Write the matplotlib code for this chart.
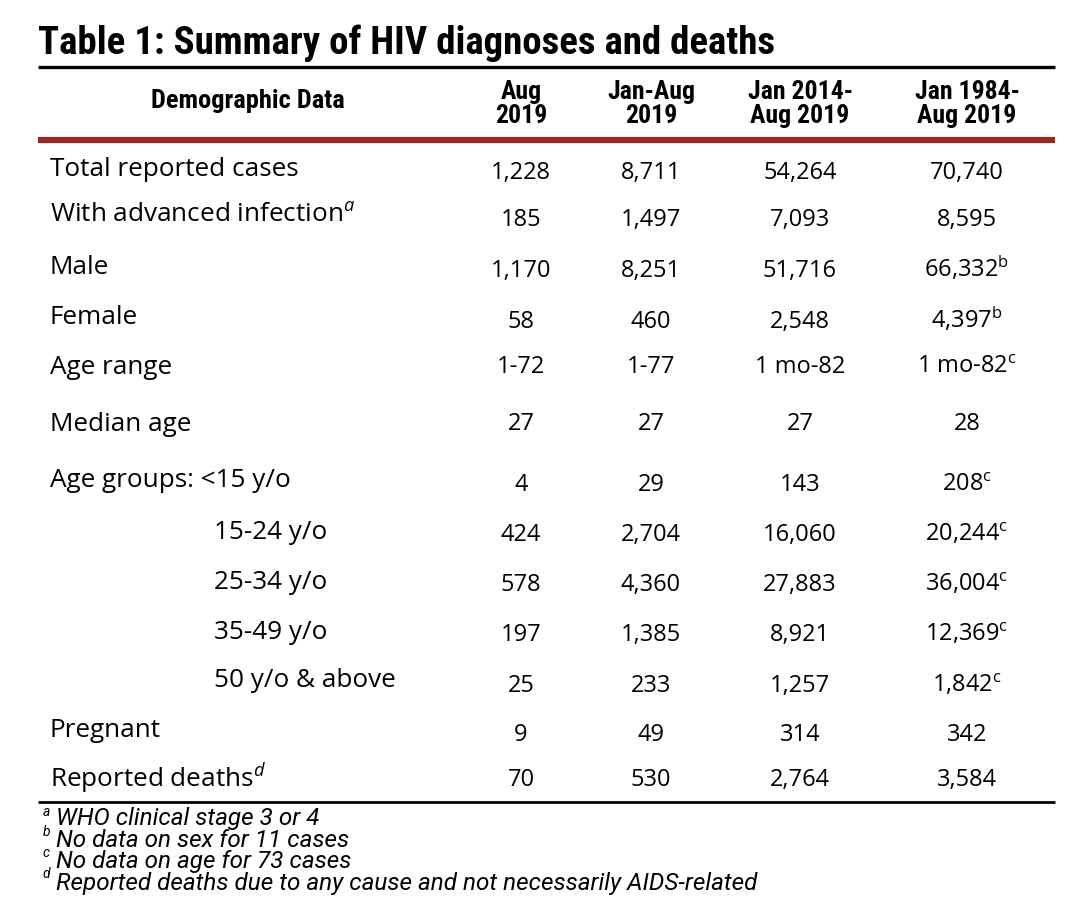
import matplotlib
matplotlib.use("Agg")
import matplotlib.pyplot as plt

plt.rcParams['mathtext.fontset'] = 'custom'
plt.rcParams['mathtext.rm'] = 'Open Sans'
plt.rcParams['mathtext.it'] = 'Open Sans:italic'

title = "Table 1: Summary of HIV diagnoses and deaths"
col_header_label = "Demographic Data"
col_headers = ["Aug\n2019", "Jan-Aug\n2019", "Jan 2014-\nAug 2019", "Jan 1984-\nAug 2019"]

row_labels = ["Total reported cases", r"With advanced infection$^{\mathit{a}}$", "Male", "Female",
              "Age range", "Median age", "Age groups: <15 y/o", "15-24 y/o", "25-34 y/o",
              "35-49 y/o", "50 y/o & above", "Pregnant", r"Reported deaths$^{\mathit{d}}$"]
row_indent = [False, False, False, False, False, False, False, True, True, True, True, False, False]

col_aug2019 = ["1,228", "185", "1,170", "58", "1-72", "27", "4", "424", "578", "197", "25", "9", "70"]
col_janaug2019 = ["8,711", "1,497", "8,251", "460", "1-77", "27", "29", "2,704", "4,360", "1,385", "233", "49", "530"]
col_2014_2019 = ["54,264", "7,093", "51,716", "2,548", "1 mo-82", "27", "143", "16,060", "27,883", "8,921", "1,257", "314", "2,764"]
col_1984_2019 = ["70,740", "8,595", "66,332$^{\\mathrm{b}}$", "4,397$^{\\mathrm{b}}$", "1 mo-82$^{\\mathrm{c}}$", "28",
                 "208$^{\\mathrm{c}}$", "20,244$^{\\mathrm{c}}$", "36,004$^{\\mathrm{c}}$", "12,369$^{\\mathrm{c}}$",
                 "1,842$^{\\mathrm{c}}$", "342", "3,584"]

footnote_marks = ["a", "b", "c", "d"]
footnotes = ["WHO clinical stage 3 or 4", "No data on sex for 11 cases",
             "No data on age for 73 cases", "Reported deaths due to any cause and not necessarily AIDS-related"]

# layout (pixel positions: text baselines)
label_base = [176, 222, 274, 324, 374, 431, 487, 539, 589, 639, 687, 737, 787]
value_base = [179, 226, 277, 328, 373, 430, 491, 541, 591, 641, 692, 741, 786]
col_x = [521, 651, 800, 967]

fig = plt.figure(figsize=(10.8, 9), dpi=100)
ax = fig.add_axes([0, 0, 1, 1])
ax.set_xlim(0, 1080)
ax.set_ylim(900, 0)
ax.axis('off')

cond = ['Roboto Condensed', 'Roboto', 'DejaVu Sans']
body = 'Open Sans'

ax.text(38, 54, title, fontsize=28, fontweight='bold', family=cond,
        ha='left', va='baseline', color='black')
ax.plot([38, 1055], [67, 67], color='black', lw=2.4, solid_capstyle='butt')

ax.text(248, 108, col_header_label, fontsize=19, fontweight='bold', family=cond,
        ha='center', va='baseline')
for x, h in zip(col_x, col_headers):
    ax.text(x, 123, h, fontsize=18.5, fontweight='bold', family=cond,
            ha='center', va='baseline', linespacing=1.0, multialignment='center')

ax.plot([38, 1055], [140, 140], color='#9E2522', lw=4.4, solid_capstyle='butt')

columns = [col_aug2019, col_janaug2019, col_2014_2019, col_1984_2019]
for i, lab in enumerate(row_labels):
    ax.text(214 if row_indent[i] else 50, label_base[i], lab, fontsize=18.8, family=body,
            ha='left', va='baseline')
    for x, col in zip(col_x, columns):
        ax.text(x, value_base[i], col[i], fontsize=17, family=body, ha='center', va='baseline')

ax.plot([38, 1055], [802, 802], color='black', lw=2.0, solid_capstyle='butt')

for j, m in enumerate(footnote_marks):
    ax.text(43, 816 + 20.5 * j, m, fontsize=10, style='italic', family=['Roboto', 'DejaVu Sans'],
            ha='left', va='baseline')
ax.text(56, 807, "\n".join(footnotes), fontsize=17.5, style='italic',
        family=['Roboto', 'DejaVu Sans'], ha='left', va='top', linespacing=0.93)

fig.savefig('out.png', dpi=100)
